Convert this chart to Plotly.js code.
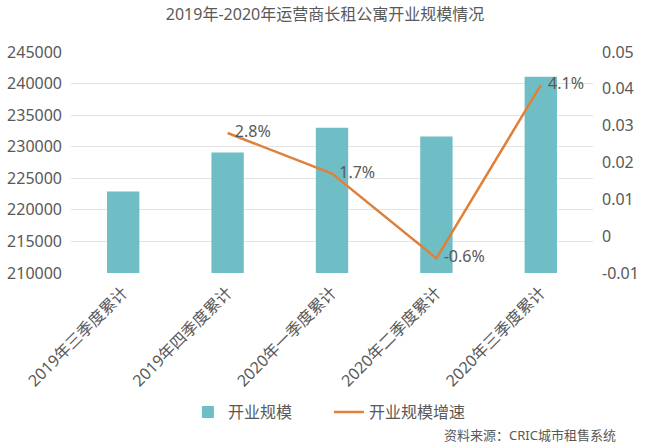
<!DOCTYPE html>
<html>
<head>
<meta charset="utf-8">
<script src="https://cdn.plot.ly/plotly-3.0.1.min.js"></script>
<style>html,body{margin:0;padding:0;background:#fff;}#chart{width:650px;height:448px;}</style>
</head>
<body>
<div id="chart"></div>
<script>
const categories = ["2019年三季度累计", "2019年四季度累计", "2020年一季度累计", "2020年二季度累计", "2020年三季度累计"];
const scaleValues = [222900, 229100, 233000, 231600, 241100];
const growthCategories = ["2019年四季度累计", "2020年一季度累计", "2020年二季度累计", "2020年三季度累计"];
const growthValues = [0.028, 0.017, -0.006, 0.041];
const growthLabels = ["2.8%", "1.7%", "-0.6%", "4.1%"];
const leftTicks = [210000, 215000, 220000, 225000, 230000, 235000, 240000, 245000];
const rightTicks = [-0.01, 0, 0.01, 0.02, 0.03, 0.04, 0.05];
const rightTickText = ["-0.01", "0", "0.01", "0.02", "0.03", "0.04", "0.05"];

const FONT = "Noto Sans, Noto Sans CJK SC, sans-serif";
const GRAY = "#595959";

const data = [
  {
    type: "bar", name: "开业规模", x: categories, y: scaleValues,
    marker: {color: "#6FBEC5"}, width: 0.31, hoverinfo: "skip"
  },
  {
    type: "scatter", mode: "lines+markers+text", name: "开业规模增速",
    x: growthCategories, y: growthValues, yaxis: "y2",
    line: {color: "#E0813A", width: 2.5},
    marker: {size: 10, color: "rgba(0,0,0,0)", line: {width: 0, color: "rgba(0,0,0,0)"}},
    text: growthLabels, textposition: "middle right",
    textfont: {family: FONT, size: 16, color: GRAY}, cliponaxis: false
  }
];

const layout = {
  width: 650, height: 448,
  margin: {l: 71, r: 57, t: 52, b: 175},
  paper_bgcolor: "#fff", plot_bgcolor: "#fff",
  font: {family: FONT, color: GRAY},
  title: {text: "2019年-2020年运营商长租公寓开业规模情况", font: {family: FONT, size: 16, color: GRAY}, x: 0.5, xanchor: "center", y: 0.968, yanchor: "middle", yref: "container"},
  showlegend: true,
  legend: {orientation: "h", x: 0.224, xanchor: "left", y: 0.08, yanchor: "middle", yref: "container", font: {family: FONT, size: 16, color: GRAY}, itemwidth: 30, entrywidth: 96, entrywidthmode: "pixels", tracegroupgap: 0, traceorder: "normal"},
  xaxis: {
    type: "category", tickangle: -45, tickfont: {family: FONT, size: 16, color: GRAY},
    showgrid: false, showline: false, ticks: "", zeroline: false, ticklabelstandoff: 6
  },
  yaxis: {
    range: [210000, 245000], tickvals: leftTicks, ticktext: leftTicks.map(String),
    tickfont: {family: FONT, size: 16, color: GRAY}, gridcolor: "#e3e3e3", gridwidth: 1,
    zeroline: false, showline: false, ticks: "", ticklabelstandoff: 8
  },
  yaxis2: {
    overlaying: "y", side: "right", range: [-0.01, 0.05], tickvals: rightTicks, ticktext: rightTickText,
    tickfont: {family: FONT, size: 16, color: GRAY}, showgrid: false, zeroline: false, showline: false, ticks: "", ticklabelstandoff: 8
  },
  annotations: [
    {text: "资料来源：CRIC城市租售系统", xref: "paper", yref: "paper", x: 1.048, y: -0.733, xanchor: "right", yanchor: "middle", showarrow: false, font: {family: FONT, size: 13, color: GRAY}}
  ]
};

Plotly.newPlot("chart", data, layout, {displayModeBar: false, staticPlot: true});
</script>
</body>
</html>
